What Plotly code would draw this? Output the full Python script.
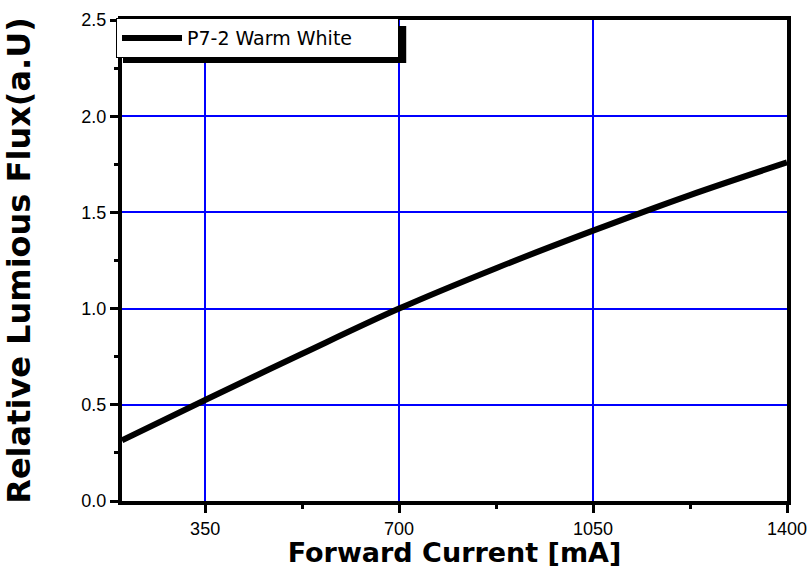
import plotly.graph_objects as go

current_ma = [200, 350, 525, 700, 875, 1050, 1225, 1400]
rel_flux = [0.315, 0.525, 0.765, 1.0, 1.21, 1.405, 1.59, 1.76]
series_name = "P7-2 Warm White"
x_ticks = [350, 700, 1050, 1400]
y_ticks = [0.0, 0.5, 1.0, 1.5, 2.0, 2.5]

fig = go.Figure()
fig.add_trace(go.Scatter(
    x=current_ma, y=rel_flux, mode="lines", name=series_name,
    line=dict(color="black", width=6, shape="spline"),
))

fig.update_layout(
    width=811, height=568,
    margin=dict(l=122, r=24, t=20, b=67, autoexpand=False),
    paper_bgcolor="white", plot_bgcolor="white",
    font=dict(family="Liberation Sans, Arial, sans-serif", color="black"),
    showlegend=True,
    legend=dict(
        x=-0.009, y=1.004, xanchor="left", yanchor="top",
        orientation="h", entrywidth=206, entrywidthmode="pixels",
        bgcolor="white", bordercolor="black", borderwidth=1,
        font=dict(size=19, family="DejaVu Sans"),
        itemwidth=60,
    ),
    shapes=[dict(
        type="rect", xref="paper", yref="paper",
        x0=0.0015, x1=0.4274, y0=0.9107, y1=0.9875,
        fillcolor="black", line=dict(width=0), layer="above",
    )],
)

fig.update_xaxes(
    range=[200, 1400], tickvals=x_ticks, automargin=False,
    showgrid=True, gridcolor="#0000ff", gridwidth=2,
    showline=True, linecolor="black", linewidth=4, mirror=True,
    ticks="outside", ticklen=8, tickwidth=3, tickcolor="black",
    minor=dict(tickvals=[525, 875, 1225], ticks="outside", ticklen=4, tickwidth=3, tickcolor="black", showgrid=False),
    tickfont=dict(size=18),
    zeroline=False,
    title=dict(text="Forward Current [mA]", font=dict(size=27, family="DejaVu Sans", weight="bold"), standoff=8),
)
fig.update_yaxes(
    range=[0, 2.5], tickvals=y_ticks, tickformat=".1f", automargin=False,
    showgrid=True, gridcolor="#0000ff", gridwidth=2,
    showline=True, linecolor="black", linewidth=4, mirror=True,
    ticks="outside", ticklen=8, tickwidth=3, tickcolor="black",
    minor=dict(tickvals=[0.25, 0.75, 1.25, 1.75, 2.25], ticks="outside", ticklen=4, tickwidth=3, tickcolor="black", showgrid=False),
    tickfont=dict(size=18),
    zeroline=False,
    title=dict(text="Relative Lumious Flux(a.U)", font=dict(size=32, family="DejaVu Sans", weight="bold"), standoff=54),
)

fig.write_html(
    "out.html",
    config={"displayModeBar": False},
    post_script="document.body.style.margin='0';document.body.style.overflow='hidden';",
)
